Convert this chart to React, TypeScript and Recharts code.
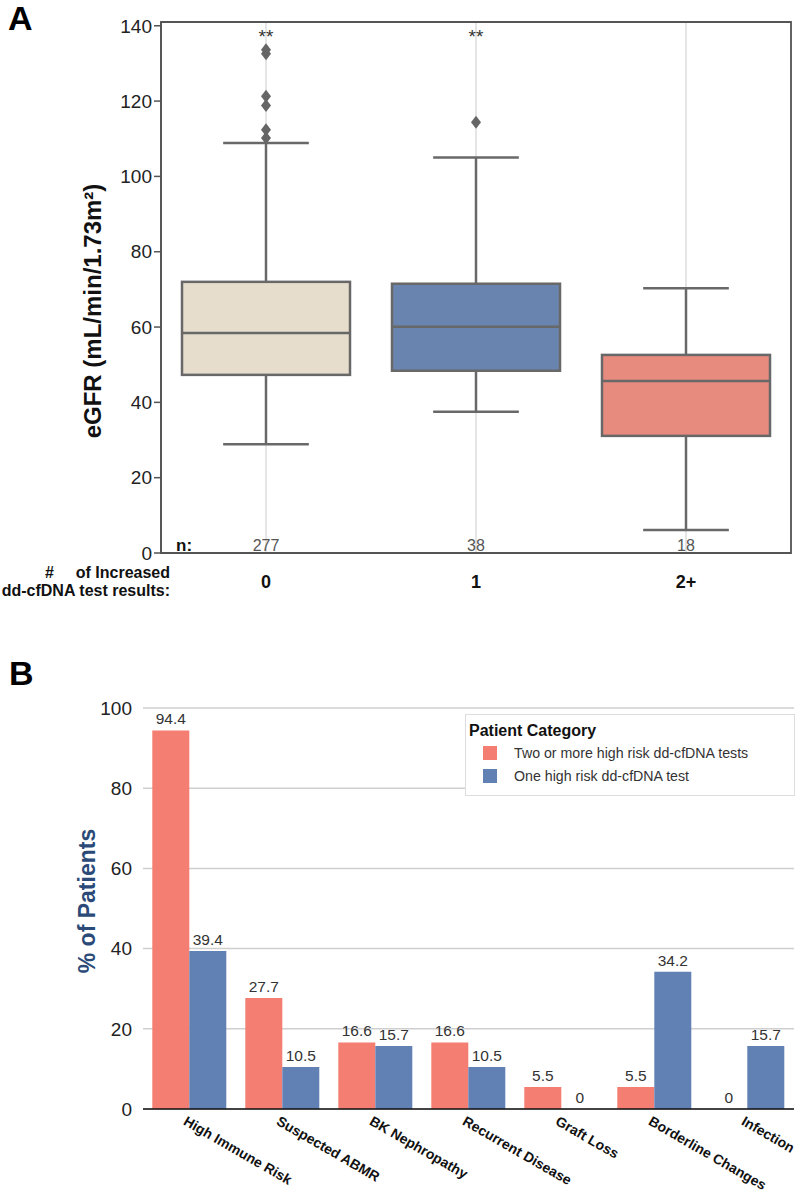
import React from "react";
import {
  Bar,
  BarChart,
  CartesianGrid,
  Cell,
  ComposedChart,
  LabelList,
  Legend,
  ReferenceArea,
  XAxis,
  YAxis,
} from "recharts";

// Panel A: eGFR by number of increased dd-cfDNA results
const groups = ["0", "1", "2+"];
const whiskerLow = [28.9, 37.5, 6.1];
const quartile1 = [47.3, 48.4, 31.1];
const medians = [58.4, 60.1, 45.7];
const quartile3 = [72.0, 71.5, 52.6];
const whiskerHigh = [108.9, 105.0, 70.3];
const outlierValues = [[133.6, 132.6, 121.3, 118.8, 112.4, 110.2], [114.4], []];
const counts = [277, 38, 18];
const significance = ["**", "**", ""];
const egfrTicks = [0, 20, 40, 60, 80, 100, 120, 140];

// Panel B: patient categories
const categories = [
  "High Immune Risk",
  "Suspected ABMR",
  "BK Nephropathy",
  "Recurrent Disease",
  "Graft Loss",
  "Borderline Changes",
  "Infection",
];
const twoOrMore = [94.4, 27.7, 16.6, 16.6, 5.5, 5.5, 0];
const oneTest = [39.4, 10.5, 15.7, 10.5, 0, 34.2, 15.7];
const pctTicks = [0, 20, 40, 60, 80, 100];

const boxColors = ["#E6DDCC", "#6984AF", "#E88B7F"];
const RED = "#F47E71";
const BLUE = "#6181B5";
const FONT = "'Liberation Sans', Arial, Helvetica, sans-serif";

const boxData = groups.map((g, i) => ({
  group: g,
  lo: whiskerLow[i],
  q1: quartile1[i],
  med: medians[i],
  q3: quartile3[i],
  hi: whiskerHigh[i],
  outliers: outlierValues[i],
  n: counts[i],
  sig: significance[i],
}));

const barData = categories.map((c, i) => ({
  category: c,
  twoOrMore: twoOrMore[i],
  one: oneTest[i],
}));

// bar spans 0..hi, so other values are placed along the same pixel scale
function BoxShape(props: any) {
  const { x, y, width, height, payload } = props;
  const i = groups.indexOf(payload.group);
  const py = (v: number) => y + height * (1 - v / payload.hi);
  const cx = x + width / 2;
  const cap = width * 0.255;
  const stroke = "#686868";
  return (
    <g>
      <line x1={cx} x2={cx} y1={py(payload.hi)} y2={py(payload.q3)} stroke={stroke} strokeWidth={2.5} />
      <line x1={cx} x2={cx} y1={py(payload.q1)} y2={py(payload.lo)} stroke={stroke} strokeWidth={2.5} />
      <line x1={cx - cap} x2={cx + cap} y1={py(payload.hi)} y2={py(payload.hi)} stroke={stroke} strokeWidth={2.5} />
      <line x1={cx - cap} x2={cx + cap} y1={py(payload.lo)} y2={py(payload.lo)} stroke={stroke} strokeWidth={2.5} />
      <rect
        x={x}
        y={py(payload.q3)}
        width={width}
        height={py(payload.q1) - py(payload.q3)}
        fill={boxColors[i]}
        stroke={stroke}
        strokeWidth={2.5}
      />
      <line x1={x} x2={x + width} y1={py(payload.med)} y2={py(payload.med)} stroke={stroke} strokeWidth={2.5} />
      {payload.outliers.map((v: number, k: number) => {
        const oy = py(v);
        return (
          <path
            key={k}
            d={`M${cx},${oy - 6.5} L${cx + 5},${oy} L${cx},${oy + 6.5} L${cx - 5},${oy} Z`}
            fill="#666"
          />
        );
      })}
      {payload.sig && (
        <text x={cx} y={py(135.3)} textAnchor="middle" fontSize={19} fill="#333">
          {payload.sig}
        </text>
      )}
      <text x={cx} y={py(0) - 2} textAnchor="middle" fontSize={16} fill="#555">
        {payload.n}
      </text>
    </g>
  );
}

function CategoryTick(props: any) {
  const { x, y, payload } = props;
  const px = x - 7;
  const py = y + 15;
  return (
    <text
      x={px}
      y={py}
      transform={`rotate(30, ${px}, ${py})`}
      textAnchor="start"
      fontSize={14}
      fontWeight="bold"
      fill="#111"
    >
      {payload.value}
    </text>
  );
}

// zero bars get a 1px transparent stub so their "0" label still shows
const stub = (v: number) => (v === 0 ? 1 : 0);

function ValueLabel(props: any) {
  const { x, y, width, height, value } = props;
  if (value === undefined || value === null) return null;
  const top = value === 0 ? y + height : y;
  return (
    <text x={x + width / 2} y={top - 6} textAnchor="middle" fontSize={15.5} fill="#333">
      {String(value)}
    </text>
  );
}

function PatientLegend() {
  const items = [
    { label: "Two or more high risk dd-cfDNA tests", color: RED },
    { label: "One high risk dd-cfDNA test", color: BLUE },
  ];
  return (
    <div
      style={{
        border: "1px solid #ddd",
        background: "#fff",
        padding: "6px 0 8px 3px",
        fontFamily: FONT,
        boxSizing: "border-box",
        width: 330,
        height: 82,
      }}
    >
      <div style={{ fontWeight: "bold", fontSize: 16, color: "#111", lineHeight: "20px" }}>
        Patient Category
      </div>
      {items.map((it) => (
        <div key={it.label} style={{ display: "flex", alignItems: "center", height: 23, fontSize: 14.2, color: "#333" }}>
          <span style={{ display: "inline-block", width: 14, height: 14, background: it.color, marginLeft: 14, marginRight: 17 }} />
          {it.label}
        </div>
      ))}
    </div>
  );
}

export default function App() {
  return (
    <div style={{ position: "absolute", left: 0, top: 0, width: 800, height: 1192, fontFamily: FONT, background: "#fff" }}>
      <div style={{ position: "absolute", left: 0, top: 0 }}>
        <ComposedChart width={800} height={610} data={boxData} margin={{ top: 22, right: 9, bottom: 0, left: 0 }} barCategoryGap="10%">
          <CartesianGrid horizontal={false} stroke="#dcdcdc" strokeWidth={1.5} />
          <ReferenceArea y1={0} y2={141} fill="none" stroke="#555" strokeWidth={1.8} />
          <XAxis
            dataKey="group"
            height={57}
            tickLine={false}
            tickSize={0}
            tickMargin={22}
            axisLine={{ stroke: "#555", strokeWidth: 1.8 }}
            tick={{ fontSize: 18, fontWeight: "bold", fill: "#111" }}
          />
          <YAxis
            width={161}
            domain={[0, 141]}
            ticks={egfrTicks}
            tickSize={7}
            tickMargin={2}
            axisLine={{ stroke: "#555", strokeWidth: 1.8 }}
            tickLine={{ stroke: "#555", strokeWidth: 1.5 }}
            tick={{ fontSize: 19, fill: "#222" }}
          />
          <Bar dataKey="hi" shape={<BoxShape />} isAnimationActive={false} />
        </ComposedChart>
      </div>

      <div style={{ position: "absolute", left: 0, top: 640 }}>
        <BarChart width={800} height={552} data={barData} margin={{ top: 68, right: 6, bottom: 0, left: 0 }} barCategoryGap="10%" barGap={0}>
          <CartesianGrid vertical={false} stroke="#cfcfcf" strokeWidth={1.5} />
          <XAxis
            dataKey="category"
            height={83}
            interval={0}
            tickLine={false}
            tickSize={0}
            tickMargin={0}
            axisLine={{ stroke: "#111", strokeWidth: 1.5 }}
            tick={<CategoryTick />}
          />
          <YAxis
            width={143}
            domain={[0, 100]}
            ticks={pctTicks}
            axisLine={false}
            tickLine={false}
            tickMargin={5}
            tick={{ fontSize: 19, fill: "#222" }}
          />
          <Legend
            layout="vertical"
            align="center"
            verticalAlign="middle"
            content={<PatientLegend />}
            wrapperStyle={{ left: 465, top: 74, width: 330, height: 82 }}
          />
          <Bar dataKey="twoOrMore" name="Two or more high risk dd-cfDNA tests" fill={RED} minPointSize={stub} isAnimationActive={false}>
            {twoOrMore.map((v, i) => (
              <Cell key={i} fill={v === 0 ? "transparent" : RED} />
            ))}
            <LabelList dataKey="twoOrMore" content={<ValueLabel />} />
          </Bar>
          <Bar dataKey="one" name="One high risk dd-cfDNA test" fill={BLUE} minPointSize={stub} isAnimationActive={false}>
            {oneTest.map((v, i) => (
              <Cell key={i} fill={v === 0 ? "transparent" : BLUE} />
            ))}
            <LabelList dataKey="one" content={<ValueLabel />} />
          </Bar>
        </BarChart>
      </div>

      <svg width={800} height={1192} style={{ position: "absolute", left: 0, top: 0, pointerEvents: "none" }}>
        <text x={8} y={30} fontSize={34} fontWeight="bold" fill="#000">A</text>
        <text x={9} y={685} fontSize={34} fontWeight="bold" fill="#000">B</text>
        <text x={101} y={311} transform="rotate(-90, 101, 311)" textAnchor="middle" fontSize={24} fontWeight="bold" fill="#111">
          eGFR (mL/min/1.73m²)
        </text>
        <text x={95} y={901} transform="rotate(-90, 95, 901)" textAnchor="middle" fontSize={23} fontWeight="bold" fill="#2B4A78">
          % of Patients
        </text>
        <text x={176} y={551} fontSize={17} fontWeight="bold" fill="#111">n:</text>
        <text x={45} y={578} fontSize={16} fontWeight="bold" fill="#111">#</text>
        <text x={170} y={578} textAnchor="end" fontSize={16} fontWeight="bold" fill="#111">of Increased</text>
        <text x={170} y={596} textAnchor="end" fontSize={16} fontWeight="bold" fill="#111">dd-cfDNA test results:</text>
      </svg>
    </div>
  );
}
